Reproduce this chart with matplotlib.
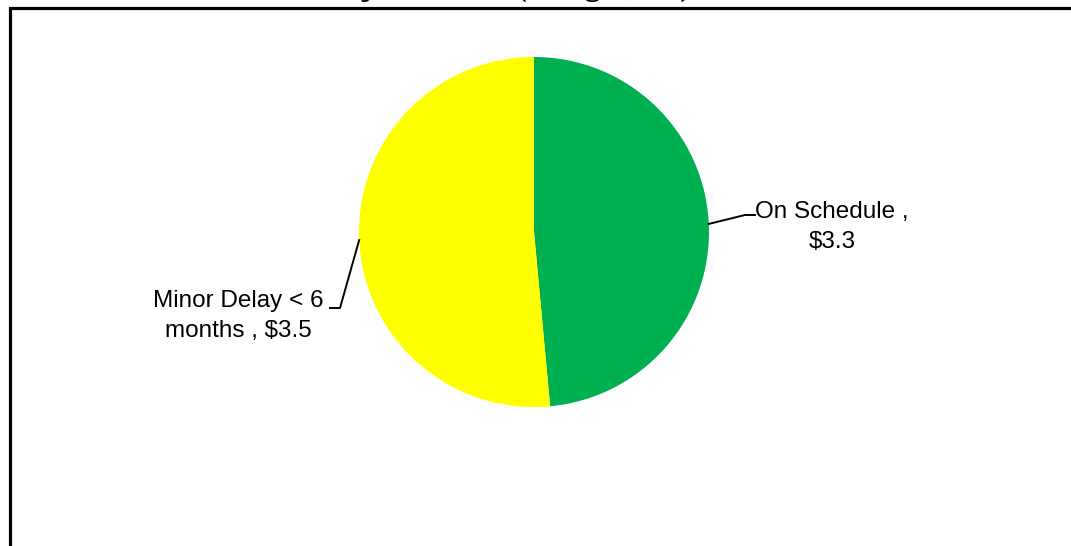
import numpy as np
import matplotlib.pyplot as plt
from matplotlib.patches import Rectangle

# Portfolio status, dollars in billions
categories = ['On Schedule', 'Minor Delay < 6\nmonths']
values = [3.3, 3.5]
colors = ['#00B050', '#FFFF00']
title = 'Project Status (Budget, $B)'

W, H = 1071, 546
fig = plt.figure(figsize=(W / 100, H / 100), dpi=100)
ax = fig.add_axes([0, 0, 1, 1])

# outer frame (runs off the right and bottom edges)
ax.add_patch(Rectangle((10, -20), W + 20, H - 8 + 20, fill=False,
                       edgecolor='black', linewidth=2.3))

# title sits mostly above the canvas, only descenders show
fig.text(0.468, 1.0 + 5 / H, title, ha='center', va='baseline', fontsize=23.5,
         fontweight='bold', family='Liberation Serif')

cx, cy, r = 534, H - 232, 175
wedges, _ = ax.pie(values, colors=colors, startangle=90, counterclock=False,
                   center=(cx, cy), radius=r, frame=True,
                   wedgeprops=dict(linewidth=0))
ax.set_xlim(0, W)
ax.set_ylim(0, H)
ax.set_aspect('equal')
ax.axis('off')

font = dict(family=['Liberation Sans Narrow', 'Liberation Sans'], fontsize=17.5)

# label text positions and leader elbows
label_pos = [(832, H - 227), (238, H - 316)]
elbows = [((745, H - 215), (755, H - 215)), ((340, H - 308), (330, H - 308))]

for w, name, val, (tx, ty), (e1, e2) in zip(wedges, categories, values,
                                             label_pos, elbows):
    mid = np.deg2rad((w.theta1 + w.theta2) / 2)
    px, py = cx + r * np.cos(mid), cy + r * np.sin(mid)
    ax.plot([px, e1[0], e2[0]], [py, e1[1], e2[1]], color='black', lw=1.4)
    if '\n' in name:
        text = f'{name} , ${val:.1f}'
    else:
        text = f'{name} ,\n${val:.1f}'
    ax.text(tx, ty, text, ha='center', va='center', linespacing=1.5, **font)

fig.savefig('out.png', dpi=100)
